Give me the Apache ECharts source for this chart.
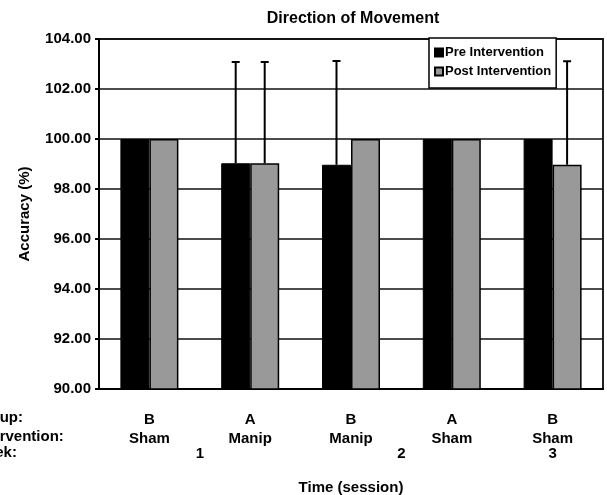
<!DOCTYPE html>
<html>
<head>
<meta charset="utf-8">
<script src="https://cdn.jsdelivr.net/npm/echarts@6/dist/echarts.min.js"></script>
<style>
  html, body { margin: 0; padding: 0; background: #fff; }
  #chart { width: 607px; height: 495px; }
</style>
</head>
<body>
<div id="chart"></div>
<script>
// Session groups and interventions along the category axis
const groups = ['B', 'A', 'B', 'A', 'B'];
const interventions = ['Sham', 'Manip', 'Manip', 'Sham', 'Sham'];
// Week markers sit on a half-category scale (11 slots across the 5 sessions)
const weekTicks = ['', '', '1', '', '', '', '2', '', '', '3', ''];

// Accuracy (%) per session
const preValues = [100, 99.03, 98.97, 100, 100];
const postValues = [100, 99.03, 100, 100, 98.97];
// Upper error (SD) per session
const preErrors = [0, 4.05, 4.15, 0, 0];
const postErrors = [0, 4.05, 0, 0, 4.14];

const yTicks = { min: 90, max: 104, step: 2 };

const FONT = '"Liberation Sans", Arial, Helvetica, sans-serif';
const BAR_W = 29;

const chart = echarts.init(document.getElementById('chart'), null, { renderer: 'canvas' });

function errorSeries(name, values, errors, side) {
  return {
    name: name + ' error',
    type: 'custom',
    xAxisIndex: 0,
    yAxisIndex: 0,
    z: 5,
    silent: true,
    data: values.map((v, i) => [i, v, errors[i]]),
    renderItem: function (params, api) {
      const e = api.value(2);
      if (!e) return null;
      const i = api.value(0), v = api.value(1);
      const base = api.coord([i, v]);
      const top = api.coord([i, v + e]);
      const x = base[0] + side * BAR_W / 2;
      const style = { stroke: '#000', lineWidth: 2 };
      return {
        type: 'group',
        children: [
          { type: 'line', shape: { x1: x, y1: base[1], x2: x, y2: top[1] }, style: style },
          { type: 'line', shape: { x1: x - 4, y1: top[1], x2: x + 4, y2: top[1] }, style: style }
        ]
      };
    }
  };
}

const labelFont = { fontFamily: FONT, fontWeight: 'bold', fontSize: 15, color: '#000' };

const option = {
  animation: false,
  backgroundColor: '#fff',
  textStyle: { fontFamily: FONT },
  title: {
    text: 'Direction of Movement',
    left: 348,
    top: 6,
    textAlign: 'center',
    textStyle: { fontFamily: FONT, fontWeight: 'bold', fontSize: 16, color: '#000' }
  },
  legend: {
    data: ['Pre Intervention', 'Post Intervention'],
    orient: 'vertical',
    left: 429,
    top: 38,
    icon: 'rect',
    itemWidth: 8,
    itemHeight: 8,
    itemGap: 4,
    padding: [7, 5, 9, 5],
    backgroundColor: '#fff',
    borderColor: '#000',
    borderWidth: 1.5,
    z: 10,
    textStyle: { fontFamily: FONT, fontWeight: 'bold', fontSize: 13, color: '#000', lineHeight: 15, padding: [0, 0, 0, -3] }
  },
  grid: {
    left: 99,
    right: 4,
    top: 39,
    bottom: 106,
    containLabel: false,
    outerBoundsMode: 'none',
    show: true,
    borderColor: '#222',
    borderWidth: 2,
    backgroundColor: 'transparent'
  },
  xAxis: [
    {
      type: 'category',
      data: groups.map((g, i) => g + '\n' + interventions[i]),
      axisLine: { show: true, lineStyle: { color: '#000', width: 2 } },
      axisTick: { show: false },
      splitLine: { show: false },
      axisLabel: Object.assign({ interval: 0, margin: 21, lineHeight: 19 }, labelFont)
    },
    {
      type: 'category',
      data: weekTicks,
      boundaryGap: false,
      position: 'bottom',
      axisLine: { show: false },
      axisTick: { show: false },
      splitLine: { show: false },
      axisLabel: Object.assign({ interval: 0, margin: 56, lineHeight: 18 }, labelFont),
      name: 'Time (session)',
      nameLocation: 'middle',
      nameGap: 90,
      nameTextStyle: Object.assign({ lineHeight: 18 }, labelFont)
    }
  ],
  yAxis: {
    type: 'value',
    min: yTicks.min,
    max: yTicks.max,
    interval: yTicks.step,
    name: 'Accuracy (%)',
    nameLocation: 'middle',
    nameGap: 67,
    nameRotate: 90,
    nameTextStyle: labelFont,
    axisLine: { show: true, lineStyle: { color: '#000', width: 2 } },
    axisTick: { show: true, inside: false, length: 4, lineStyle: { color: '#000', width: 2 } },
    splitLine: { show: true, lineStyle: { color: '#111', width: 1.5 } },
    axisLabel: Object.assign({ margin: 8, formatter: v => v.toFixed(2) }, labelFont)
  },
  graphic: [
    { type: 'text', left: -27, top: 410, style: { text: 'Group:', font: 'bold 15px ' + FONT, fill: '#000' } },
    { type: 'text', left: -27, top: 429, style: { text: 'Intervention:', font: 'bold 15px ' + FONT, fill: '#000' } },
    { type: 'text', left: -27, top: 445, style: { text: 'Week:', font: 'bold 15px ' + FONT, fill: '#000' } }
  ],
  series: [
    {
      name: 'Pre Intervention',
      type: 'bar',
      xAxisIndex: 0,
      barWidth: BAR_W,
      barGap: '0%',
      data: preValues,
      itemStyle: { color: '#000', borderColor: '#000', borderWidth: 1 }
    },
    {
      name: 'Post Intervention',
      type: 'bar',
      xAxisIndex: 0,
      barWidth: BAR_W,
      barGap: '0%',
      data: postValues,
      itemStyle: { color: '#999', borderColor: '#000', borderWidth: 1.5 }
    },
    errorSeries('Pre Intervention', preValues, preErrors, -1),
    errorSeries('Post Intervention', postValues, postErrors, 1)
  ]
};

chart.setOption(option);
</script>
</body>
</html>
